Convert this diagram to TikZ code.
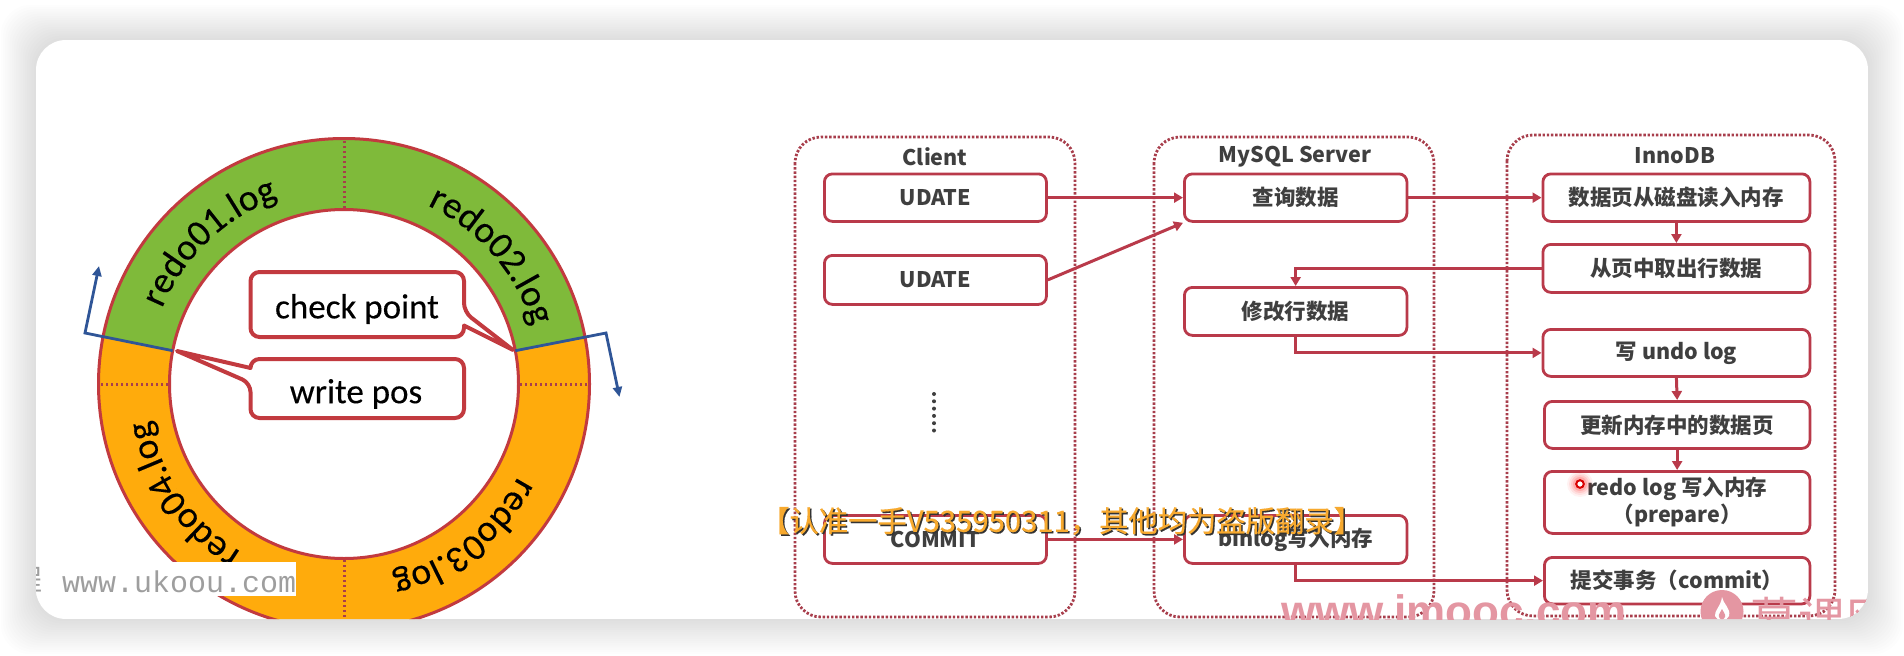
\documentclass[tikz,border=0pt]{standalone}
\usepackage{fontspec}
\setmainfont{Carlito}
\newfontfamily\ringf{Carlito}[FakeBold=0.25]
\newfontfamily\cjk{Noto Sans CJK SC}
\newfontfamily\cjkwm{Noto Sans CJK SC}[FakeBold=0.4]
\newfontfamily\monow{Liberation Mono}
\newfontfamily\heavy{Liberation Sans}
\usetikzlibrary{arrows.meta,decorations.text}
\definecolor{lineRed}{HTML}{B93A4A}
\definecolor{ringRed}{HTML}{C23A3F}
\definecolor{dotRed}{HTML}{A83E4C}
\definecolor{ringGreen}{HTML}{7FBA3A}
\definecolor{ringOrange}{HTML}{FFAB0C}
\definecolor{flowText}{HTML}{3F3F3F}
\definecolor{blueLine}{HTML}{2F5597}
\definecolor{wmOrange}{HTML}{F7A92E}
\definecolor{wmPink}{HTML}{E496A2}
\tikzset{
  container/.style={draw=dotRed,line width=2.8pt,dash pattern=on 2.4pt off 1.8pt,rounded corners=26pt},
  flowbox/.style={draw=lineRed,line width=2.8pt,rounded corners=8pt,fill=white,inner sep=0pt},
  flowlabel/.style={font=\cjk\bfseries\fontsize{21.5}{27}\selectfont,text=flowText,align=center,inner sep=0pt},
  title/.style={font=\cjk\bfseries\fontsize{21.5}{25}\selectfont,text=flowText,inner sep=0pt},
  flowarrow/.style={draw=lineRed,line width=3pt,-{Triangle[length=9pt,width=10pt]}},
  bluearrow/.style={draw=blueLine,line width=2.8pt,-{Triangle[length=10pt,width=9pt]},line join=miter},
  callout/.style={draw=ringRed,line width=4pt,fill=white,rounded corners=9pt,line join=round},
  ringlabel/.style={font=\ringf\fontsize{35}{40}\selectfont,inner sep=0pt},
  ringdots/.style={draw=dotRed,line width=3pt,dash pattern=on 2.4pt off 2.6pt},
}
\newcommand{\fbx}[6]{% name x1 y1 x2 y2 text
  \node[flowbox,minimum width=#4pt-#2pt,minimum height=#5pt-#3pt,anchor=north west] (#1) at (#2,#3) {};
  \node[flowlabel] (#1t) at (#1.center) {#6};
}
\begin{document}
\begin{tikzpicture}[x=1pt,y=-1pt]
\useasboundingbox (0,0) rectangle (1904,656);
\fill[white] (0,0) rectangle (1904,656);
\foreach \i in {1,...,16}{
  \pgfmathsetmacro{\g}{(17-\i)*2.2}
  \fill[black,opacity=0.0095,rounded corners=30pt] (36-\g,40-\g) rectangle (1868+\g,619+\g);
}
\begin{scope}
\clip[rounded corners=30pt] (36,40) rectangle (1868,619);
\fill[white] (36,40) rectangle (1868,619);

% ring
\begin{scope}[shift={(344,384)},y=1pt]
  \fill[ringGreen] (169:245.5) arc[start angle=169,end angle=11,radius=245.5] -- (11:174.5) arc[start angle=11,end angle=169,radius=174.5] -- cycle;
  \fill[ringOrange] (169:245.5) arc[start angle=169,end angle=371,radius=245.5] -- (11:174.5) arc[start angle=371,end angle=169,radius=174.5] -- cycle;
  \draw[ringRed,line width=3pt] (0,0) circle[radius=245.5];
  \draw[ringRed,line width=3pt] (0,0) circle[radius=174.5];
  \foreach \a in {0,90,180,270}{\draw[ringdots] (\a:176) -- (\a:244);}
  \path[decorate,decoration={text along path,text align=center,text={|\ringf\fontsize{37.5}{40}\selectfont|redo01.log}}] (175:197) arc[start angle=175,end angle=92,radius=197];
  \path[decorate,decoration={text along path,text align=center,text={|\ringf\fontsize{37.5}{40}\selectfont|redo02.log}}] (85:197) arc[start angle=85,end angle=-3,radius=197];
  \path[decorate,decoration={text along path,text align=center,text={|\ringf\fontsize{37.5}{40}\selectfont|redo03.log}}] (-8:197) arc[start angle=-8,end angle=-96,radius=197];
  \path[decorate,decoration={text along path,text align=center,text={|\ringf\fontsize{37.5}{40}\selectfont|redo04.log}}] (-101:197) arc[start angle=-101,end angle=-190,radius=197];
  \coordinate (wpI) at (169:174.5);
  \coordinate (cpI) at (11:174.5);
\end{scope}
\coordinate (bl) at (85,333);
\coordinate (blEnd) at (99,266);
\coordinate (br) at (606,333);
\coordinate (brEnd) at (619.5,397);
\draw[bluearrow] (wpI) -- (bl) -- (blEnd);
\draw[bluearrow] (cpI) -- (br) -- (brEnd);

% callouts
\draw[callout] (250.5,272) -- (464,272) -- (464,312) [sharp corners] -- (513,350) -- (464,325.5) [rounded corners=9pt] -- (464,337) -- (250.5,337) -- cycle;
\node[ringlabel] (cp) at (357,309) {check point};
\draw[callout] (250.5,359) -- (464,359) -- (464,418) -- (250.5,418) -- (250.5,383) [sharp corners] -- (177,351) -- (250.5,368) [rounded corners=9pt] -- cycle;
\node[ringlabel] (wp) at (356,394) {write pos};

% watermark ukoou
\fill[white] (36,562) rectangle (296,596);
\node[font=\monow\fontsize{30}{34}\selectfont,text=black!38,inner sep=0pt,anchor=base west] (uk) at (62,592) {www.ukoou.com};
\node[font=\cjk\fontsize{29}{34}\selectfont,text=black!38,inner sep=0pt,anchor=base east] (ukc) at (43,590) {程};

% containers
\draw[container] (795,137) rectangle (1075,617);
\draw[container] (1154,137) rectangle (1434,617);
\draw[container] (1507,135) rectangle (1835,616);
\node[title] (tc) at (935,157) {Client};
\node[title] (tm) at (1295,157) {MySQL Server};
\node[title] (ti) at (1675,156) {InnoDB};

% boxes and connectors
\begin{scope}[shift={(-1,-1)}]
\fbx{u1}{824}{173.5}{1046}{221}{UDATE}
\fbx{u2}{824}{255}{1046}{304}{UDATE}
\fbx{cm}{824}{515}{1046}{563}{COMMIT}
\fbx{q}{1184}{173.5}{1406.5}{221}{查询数据}
\fbx{m}{1184}{287}{1406.5}{335}{修改行数据}
\fbx{b}{1184}{515}{1406.5}{563}{binlog写入内存}
\fbx{d1}{1542.5}{173.5}{1809.5}{221}{数据页从磁盘读入内存}
\fbx{d2}{1542.5}{244}{1809.5}{292}{从页中取出行数据}
\fbx{d3}{1542.5}{329}{1809.5}{376}{写 undo log}
\fbx{d4}{1544}{401}{1809.5}{448}{更新内存中的数据页}
\fbx{d5}{1544}{471}{1809.5}{533}{redo log 写入内存\\（prepare）}
\fbx{d6}{1544}{557}{1809.5}{603.5}{提交事务（commit）}
\draw[flowarrow] (u1.east) -- (q.west);
\draw[flowarrow] (u2.east) -- (q.south west);
\draw[flowarrow] (cm.east) -- (b.west);
\draw[flowarrow] (q.east) -- (d1.west);
\draw[flowarrow] (d1.south) -- (d2.north);
\draw[flowarrow] (d2.west) -| (m.north);
\draw[flowarrow] (m.south) |- (d3.west);
\draw[flowarrow] (d3.south) -- (d4.north);
\draw[flowarrow] (d4.south) -- (d5.north);
\draw[flowarrow] (b.south) |- (d6.west);
\end{scope}

% dots
\foreach \k in {0,...,5}{\fill[flowText] (934,394+\k*7.3) circle[radius=2pt];}

% pointer
\foreach \r/\o in {13/0.05,11/0.07,9/0.1,7/0.15}{\fill[red,opacity=\o] (1580,484) circle[radius=\r pt];}
\draw[red!85!black,line width=2pt,fill=white] (1580,484) circle[radius=3.8pt];

% watermarks
\node[font=\cjkwm\fontsize{29.3}{32}\selectfont,text=black!80,inner sep=0pt,anchor=west] (ws) at (761.5,522.5) {【认准一手V535950311，其他均为盗版翻录】};
\node[font=\cjkwm\fontsize{29.3}{32}\selectfont,text=wmOrange,inner sep=0pt,anchor=west] (wm) at (760,521) {【认准一手V535950311，其他均为盗版翻录】};
\node[font=\heavy\bfseries\fontsize{44}{50}\selectfont,text=wmPink,inner sep=0pt,anchor=base west] (wi) at (1281,626) {www.imooc.com};
\fill[wmPink] (1722,611.5) circle[radius=21.5pt];
\fill[white] (1722,597) .. controls (1723,604) and (1731,608) .. (1729,616) .. controls (1727,622) and (1717,622) .. (1715,616) .. controls (1714,611) and (1721,606) .. (1722,597) -- cycle;
\fill[wmPink] (1722,609) .. controls (1723,612) and (1726,614) .. (1725,617) .. controls (1724,620) and (1720,620) .. (1719,617) .. controls (1718,614) and (1721,612) .. (1722,609) -- cycle;
\node[font=\cjk\fontsize{48}{52}\selectfont,text=wmPink,inner sep=0pt,anchor=base west] (wl) at (1750,637) {慕课网};
\end{scope}
\end{tikzpicture}
\end{document}
